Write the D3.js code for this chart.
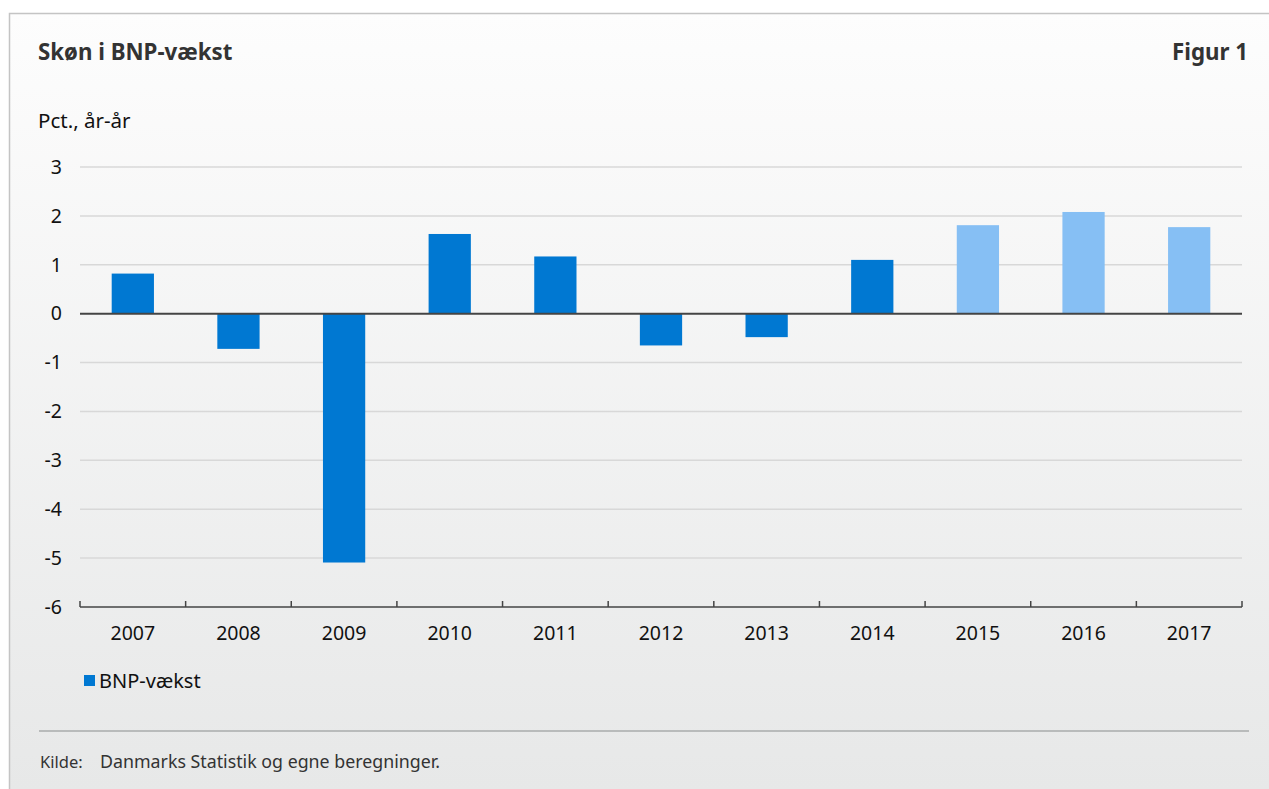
<!DOCTYPE html>
<html>
<head>
<meta charset="utf-8">
<script src="https://cdn.jsdelivr.net/npm/d3@7"></script>
<style>
  body { margin: 0; background: #fff; }
  text { font-family: "Noto Sans", sans-serif; }
</style>
</head>
<body>
<div id="chart"></div>
<script>
// Data
const years = ["2007", "2008", "2009", "2010", "2011", "2012", "2013", "2014", "2015", "2016", "2017"];
const growth = [0.82, -0.72, -5.09, 1.63, 1.17, -0.65, -0.48, 1.10, 1.81, 2.08, 1.77];
const isForecast = [false, false, false, false, false, false, false, false, true, true, true];
const yTicks = [3, 2, 1, 0, -1, -2, -3, -4, -5, -6];

const W = 1269, H = 789;
const margin = { top: 167, right: 27, bottom: 182, left: 80 };
const width = W - margin.left - margin.right;
const height = H - margin.top - margin.bottom;

var svg = d3.select("#chart")
    .append("svg")
    .attr("width", W)
    .attr("height", H);

// Panel background gradient
var grad = svg.append("defs").append("linearGradient")
    .attr("id", "bg")
    .attr("x1", 0).attr("y1", 0).attr("x2", 0).attr("y2", 1);
grad.append("stop").attr("offset", "0%").attr("stop-color", "#fdfdfd");
grad.append("stop").attr("offset", "100%").attr("stop-color", "#e7e8e8");

svg.append("rect")
    .attr("x", 9).attr("y", 13)
    .attr("width", W - 9).attr("height", H - 13)
    .attr("fill", "url(#bg)");

svg.append("path")
    .attr("d", `M9.5,${H} V13.5 H${W}`)
    .attr("fill", "none")
    .attr("stroke", "#c4c4c4")
    .attr("stroke-width", 1.5);

// Titles
svg.append("text")
    .attr("x", 38).attr("y", 60)
    .attr("font-size", 22.3).attr("font-weight", "bold")
    .attr("fill", "#333")
    .text("Skøn i BNP-vækst");

svg.append("text")
    .attr("x", 1248).attr("y", 60)
    .attr("text-anchor", "end")
    .attr("font-size", 22.3).attr("font-weight", "bold")
    .attr("fill", "#333")
    .text("Figur 1");

svg.append("text")
    .attr("x", 38).attr("y", 128)
    .attr("font-size", 20.5)
    .attr("fill", "#111")
    .text("Pct., år-år");

var g = svg.append("g")
    .attr("transform", `translate(${margin.left}, ${margin.top})`);

// Scales
var x = d3.scaleBand()
    .domain(years)
    .range([0, width])
    .paddingInner(0.6)
    .paddingOuter(0.3);

var xEdges = d3.scaleLinear()
    .domain([0, years.length])
    .range([0, width]);

var y = d3.scaleLinear()
    .domain([-6, 3])
    .range([height, 0]);

// Gridlines
g.append("g")
    .selectAll("line")
    .data(yTicks.filter(d => d !== 0 && d !== -6))
    .join("line")
    .attr("x1", 0).attr("x2", width)
    .attr("y1", d => y(d)).attr("y2", d => y(d))
    .attr("stroke", "#d8d8d8")
    .attr("stroke-width", 1.5);

// Y tick labels
g.append("g")
    .selectAll("text")
    .data(yTicks)
    .join("text")
    .attr("x", -18)
    .attr("y", d => y(d))
    .attr("dy", "0.35em")
    .attr("text-anchor", "end")
    .attr("font-size", 19.5)
    .attr("fill", "#111")
    .text(d => d);

// Bars
g.append("g")
    .selectAll("rect")
    .data(years)
    .join("rect")
    .attr("x", d => x(d))
    .attr("width", x.bandwidth())
    .attr("y", (d, i) => y(Math.max(0, growth[i])))
    .attr("height", (d, i) => Math.abs(y(growth[i]) - y(0)))
    .attr("fill", (d, i) => isForecast[i] ? "#86bff4" : "#0078d2");

// Zero line
g.append("line")
    .attr("x1", 0).attr("x2", width)
    .attr("y1", y(0)).attr("y2", y(0))
    .attr("stroke", "#444")
    .attr("stroke-width", 2);

// Bottom axis with category separators
g.append("line")
    .attr("x1", 0).attr("x2", width)
    .attr("y1", height).attr("y2", height)
    .attr("stroke", "#444")
    .attr("stroke-width", 1.5);

g.append("g")
    .selectAll("line")
    .data(d3.range(years.length + 1))
    .join("line")
    .attr("x1", d => xEdges(d)).attr("x2", d => xEdges(d))
    .attr("y1", height - 6).attr("y2", height)
    .attr("stroke", "#444")
    .attr("stroke-width", 1.5);

g.append("g")
    .selectAll("text")
    .data(years)
    .join("text")
    .attr("x", d => x(d) + x.bandwidth() / 2)
    .attr("y", height + 33)
    .attr("text-anchor", "middle")
    .attr("font-size", 19.5)
    .attr("fill", "#111")
    .text(d => d);

// Legend
svg.append("rect")
    .attr("x", 84).attr("y", 675)
    .attr("width", 11).attr("height", 11)
    .attr("fill", "#0078d2");

svg.append("text")
    .attr("x", 99).attr("y", 688)
    .attr("font-size", 20)
    .attr("fill", "#111")
    .text("BNP-vækst");

// Footer
svg.append("line")
    .attr("x1", 39).attr("x2", 1249)
    .attr("y1", 731).attr("y2", 731)
    .attr("stroke", "#a9abab")
    .attr("stroke-width", 1.5);

svg.append("text")
    .attr("x", 40).attr("y", 768)
    .attr("font-size", 16.5)
    .attr("fill", "#333")
    .text("Kilde:");

svg.append("text")
    .attr("x", 100).attr("y", 768)
    .attr("font-size", 17.8)
    .attr("fill", "#333")
    .text("Danmarks Statistik og egne beregninger.");
</script>
</body>
</html>
